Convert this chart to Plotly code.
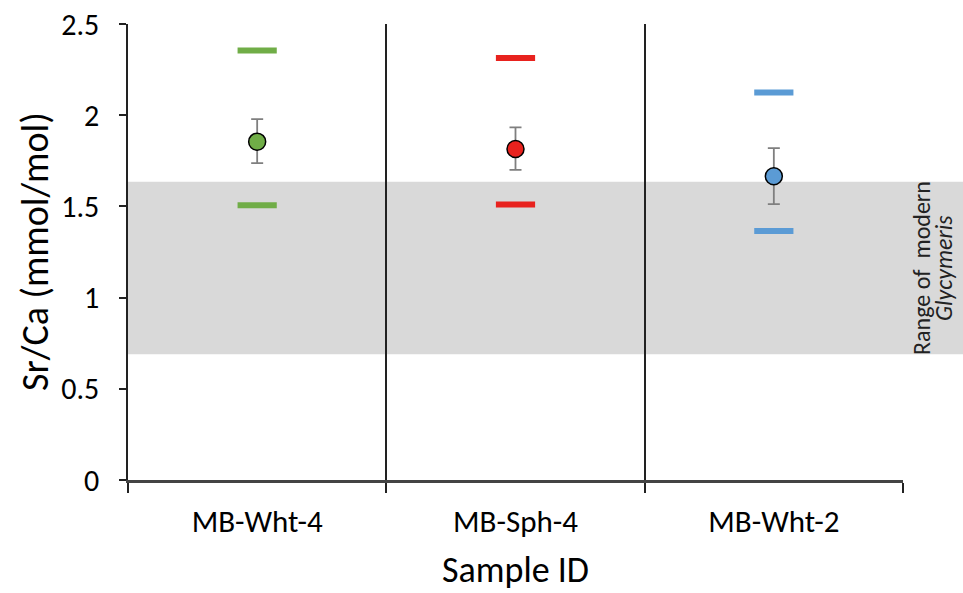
import plotly.graph_objects as go

samples = ["MB-Wht-4", "MB-Sph-4", "MB-Wht-2"]
colors = ["#70ad47", "#e8221e", "#5b9bd5"]
mean_vals = [1.855, 1.815, 1.665]
err_upper = [1.978, 1.933, 1.820]
err_lower = [1.737, 1.700, 1.513]
max_vals = [2.355, 2.313, 2.125]
min_vals = [1.506, 1.510, 1.365]
band_low, band_high = 0.69, 1.635
y_ticks = [0, 0.5, 1, 1.5, 2, 2.5]

xpos = [i + 0.5 for i in range(len(samples))]
FONT = "Carlito, Calibri, sans-serif"

fig = go.Figure()

# max/min dashes
fig.add_trace(go.Scatter(
    x=xpos + xpos, y=max_vals + min_vals, mode="markers",
    marker=dict(symbol="line-ew", size=28, color=colors + colors,
                line=dict(width=6, color=colors + colors)),
    showlegend=False, hoverinfo="skip"))

# mean with error bars
fig.add_trace(go.Scatter(
    x=xpos, y=mean_vals, mode="markers",
    marker=dict(symbol="circle", size=17, color=colors, line=dict(width=1.5, color="black")),
    error_y=dict(type="data", symmetric=False,
                 array=[u - m for u, m in zip(err_upper, mean_vals)],
                 arrayminus=[m - l for m, l in zip(mean_vals, err_lower)],
                 color="#7f7f7f", thickness=1.8, width=6),
    showlegend=False))

# invisible trace to anchor xaxis2
fig.add_trace(go.Scatter(x=xpos, y=mean_vals, xaxis="x2", mode="markers",
                         marker=dict(opacity=0), showlegend=False, hoverinfo="skip"))

fig.add_shape(type="rect", xref="paper", yref="y", x0=0, x1=1.1, y0=band_low, y1=band_high,
              fillcolor="#d9d9d9", line=dict(width=0), layer="below")

band_mid = (band_low + band_high) / 2
fig.add_annotation(xref="paper", yref="y", x=1.0245, y=band_mid, xanchor="center", yanchor="middle",
                   text="Range of  modern", textangle=-90, showarrow=False,
                   font=dict(family=FONT, size=24, color="#222"))
fig.add_annotation(xref="paper", yref="y", x=1.053, y=band_mid, xanchor="center", yanchor="middle",
                   text="<i>Glycymeris</i>", textangle=-90, showarrow=False,
                   font=dict(family=FONT, size=24, color="#222"))

# axis titles
fig.add_annotation(xref="paper", yref="paper", x=-0.12, y=0.5, xanchor="center", yanchor="middle",
                   text="Sr/Ca (mmol/mol)", textangle=-90, showarrow=False,
                   font=dict(family=FONT, size=38, color="black"))
fig.add_annotation(xref="paper", yref="paper", x=0.5, y=-0.198, xanchor="center", yanchor="middle",
                   text="Sample ID", showarrow=False,
                   font=dict(family=FONT, size=36, color="black"))

fig.update_layout(
    width=963, height=593,
    margin=dict(l=128, r=60, t=24, b=113, autoexpand=False),
    plot_bgcolor="white", paper_bgcolor="white",
    font=dict(family=FONT, color="black"),
    xaxis=dict(range=[0, 3], tickvals=[0, 1, 2, 3], showticklabels=False,
               ticks="outside", ticklen=10, tickcolor="#222", tickwidth=1.5,
               showgrid=True, gridcolor="#222", gridwidth=1.5,
               showline=True, linecolor="#444", linewidth=2.5, zeroline=False),
    xaxis2=dict(range=[0, 3], overlaying="x", side="bottom", tickvals=xpos, ticktext=samples,
                ticks="", showgrid=False, showline=False, zeroline=False,
                tickfont=dict(size=31), ticklabelstandoff=20),
    yaxis=dict(range=[0, 2.5], tickvals=y_ticks, ticktext=["0", "0.5", "1", "1.5", "2", "2.5"],
               ticks="outside", ticklen=7, tickcolor="#222", tickwidth=1.5,
               showgrid=False, showline=True, linecolor="#222", linewidth=1.5, zeroline=False,
               tickfont=dict(size=30), ticklabelstandoff=14),
)

fig.write_html("out.html")
